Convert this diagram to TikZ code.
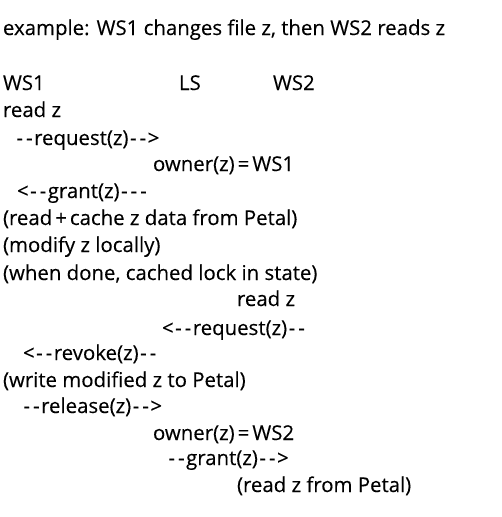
\documentclass[tikz,border=0pt]{standalone}
\usepackage{fontspec}
\newfontfamily\txtfont{Open Sans}[Ligatures=TeXOff,FakeBold=0.25]
\newcommand\hy{\kern1.5pt-\kern1.5pt}
\newcommand\eqs{\kern3pt=\kern3pt}
\newcommand\pls{\kern3pt+\kern3pt}
\begin{document}
\begin{tikzpicture}[x=1pt,y=-1pt,
  line/.style={anchor=base west,inner sep=0pt,outer sep=0pt,font=\txtfont\fontsize{20.4}{24}\selectfont,text=black}]
\useasboundingbox[fill=white] (0,0) rectangle (501,517);
\node[line] (title) at (3,35) {example: WS1 changes file z, then WS2 reads z};
\node[line] (ws1) at (3,90) {WS1};
\node[line] (ls) at (179,90) {LS};
\node[line] (ws2) at (273,90) {WS2};
\node[line] (l1) at (3,117) {read z};
\node[line] (l2) at (15,145) {\hy\hy request(z)\hy\hy>};
\node[line] (l3) at (153,171) {owner(z)\eqs WS1};
\node[line] (l4) at (17,198) {<\hy\hy grant(z)\hy\hy\hy};
\node[line] (l5) at (3,225) {(read\pls cache z data from Petal)};
\node[line] (l6) at (3,252) {(modify z locally)};
\node[line] (l7) at (3,280) {(when done, cached lock in state)};
\node[line] (l8) at (237,306) {read z};
\node[line] (l9) at (162,335) {<\hy\hy request(z)\hy\hy};
\node[line] (l10) at (23,360) {<\hy\hy revoke(z)\hy\hy};
\node[line] (l11) at (3,387) {(write modified z to Petal)};
\node[line] (l12) at (22,413) {\hy\hy release(z)\hy\hy>};
\node[line] (l13) at (153,440) {owner(z)\eqs WS2};
\node[line] (l14) at (167,465) {\hy\hy grant(z)\hy\hy>};
\node[line] (l15) at (237,492) {(read z from Petal)};
\end{tikzpicture}
\end{document}
